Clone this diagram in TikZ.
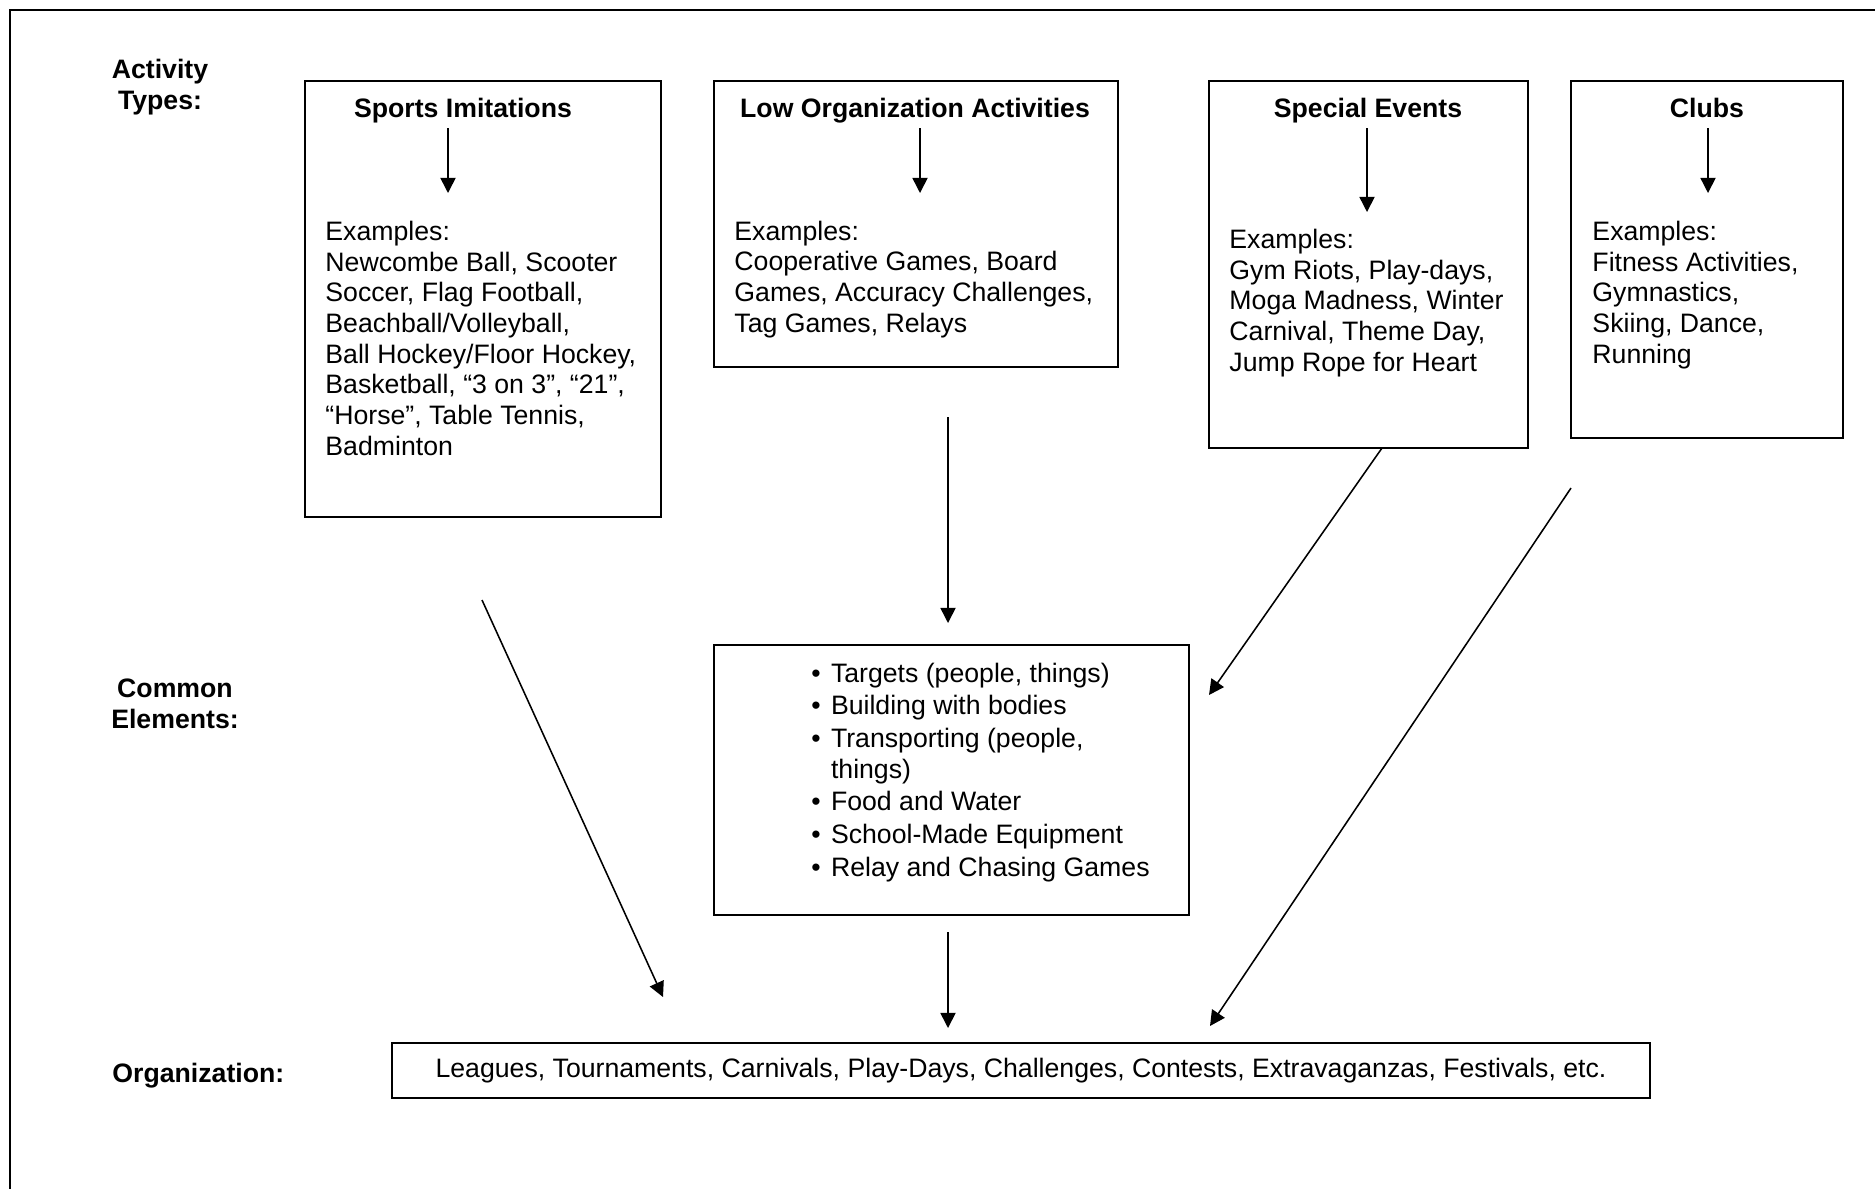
\documentclass[tikz,border=0pt]{standalone}
\usepackage{fontspec}
\setmainfont{Liberation Sans}
\usetikzlibrary{arrows.meta, positioning, fit}

\begin{document}
\begin{tikzpicture}[x=0.45pt, y=-0.45pt,
  every node/.style={font=\fontsize{12}{13.8}\selectfont},
  box/.style={draw, line width=0.8pt, inner sep=0pt},
  txt/.style={align=left, inner sep=0pt, anchor=base west},
  ttl/.style={font=\fontsize{12}{13.8}\selectfont\bfseries, inner sep=0pt, anchor=base},
  arr/.style={line width=0.7pt, -{Triangle[length=6.8pt, width=6.8pt]}}]

  \useasboundingbox (0,0) rectangle (1875,1188);
  \clip (0,0) rectangle (1875,1188);
  % outer frame, runs off at the right and bottom
  \draw[line width=0.9pt] (9.5,1200) -- (9.5,9.5) -- (1890,9.5);

  % row labels (multi-line nodes sit on their last baseline)
  \node[ttl, align=center] (lblact) at (160,109) {Activity\\Types:};
  \node[ttl, align=center] (lblcommon) at (175,728) {Common\\Elements:};
  \node[ttl, anchor=base west] (lblorg) at (112,1082) {Organization:};

  % activity type boxes
  \node[box, fit={(305,81) (661,517)}] (sports) {};
  \node[box, fit={(714,81) (1118,367)}] (low) {};
  \node[box, fit={(1209,81) (1528,448)}] (events) {};
  \node[box, fit={(1571,81) (1843,438)}] (clubs) {};

  \node[ttl] (sportsttl) at (463,117) {Sports Imitations};
  \node[ttl] (lowttl) at (915,117) {Low Organization Activities};
  \node[ttl] (eventsttl) at (1368,117) {Special Events};
  \node[ttl] (clubsttl) at (1707,117) {Clubs};

  \node[txt] (sportstxt) at (325,455) {Examples:\\Newcombe Ball, Scooter\\Soccer, Flag Football,\\Beachball/Volleyball,\\Ball Hockey/Floor Hockey,\\Basketball, “3 on 3”, “21”,\\“Horse”, Table Tennis,\\Badminton};
  \node[txt] (lowtxt) at (734,332) {Examples:\\Cooperative Games, Board\\Games, Accuracy Challenges,\\Tag Games, Relays};
  \node[txt] (eventstxt) at (1229,371) {Examples:\\Gym Riots, Play-days,\\Moga Madness, Winter\\Carnival, Theme Day,\\Jump Rope for Heart};
  \node[txt] (clubstxt) at (1592,363) {Examples:\\Fitness Activities,\\Gymnastics,\\Skiing, Dance,\\Running};

  % arrows inside the boxes
  \foreach \nm/\xx/\yy in {sports/448/193, low/920/193, events/1367/212, clubs/1708/193} {
    \coordinate (\nm top) at (\xx,128);
    \coordinate (\nm tip) at (\xx,\yy);
    \draw[arr] (\nm top) -- (\nm tip);
  }

  % common elements
  \node[box, fit={(714,645) (1189,915)}] (elem) {};
  \node[txt] (elemtxt) at (811,876) {%
    \makebox[8.8pt][l]{\textbullet}Targets (people, things)\\[0.9pt]
    \makebox[8.8pt][l]{\textbullet}Building with bodies\\[0.9pt]
    \makebox[8.8pt][l]{\textbullet}Transporting (people,\\
    \hspace*{8.8pt}things)\\[0.9pt]
    \makebox[8.8pt][l]{\textbullet}Food and Water\\[0.9pt]
    \makebox[8.8pt][l]{\textbullet}School-Made Equipment\\[0.9pt]
    \makebox[8.8pt][l]{\textbullet}Relay and Chasing Games};

  % organization
  \node[box, fit={(392,1043) (1650,1098)}] (org) {};
  \node[inner sep=0pt] (orgtxt) at (org.center) {Leagues, Tournaments, Carnivals, Play-Days, Challenges, Contests, Extravaganzas, Festivals, etc.};

  % connectors between the rows
  \coordinate (sportsout) at (482,600);
  \coordinate (orgin1) at (663,997);
  \coordinate (lowout) at (948,417);
  \coordinate (elemin) at (948,623);
  \coordinate (eventsout) at (1382,448);
  \coordinate (elemside) at (1209,695);
  \coordinate (clubsout) at (1571,488);
  \coordinate (orgin3) at (1210,1026);
  \coordinate (elemout) at (948,932);
  \coordinate (orgin2) at (948,1028);

  \draw[arr] (sportsout) -- (orgin1);
  \draw[arr] (lowout) -- (elemin);
  \draw[arr] (eventsout) -- (elemside);
  \draw[arr] (clubsout) -- (orgin3);
  \draw[arr] (elemout) -- (orgin2);
\end{tikzpicture}
\end{document}
